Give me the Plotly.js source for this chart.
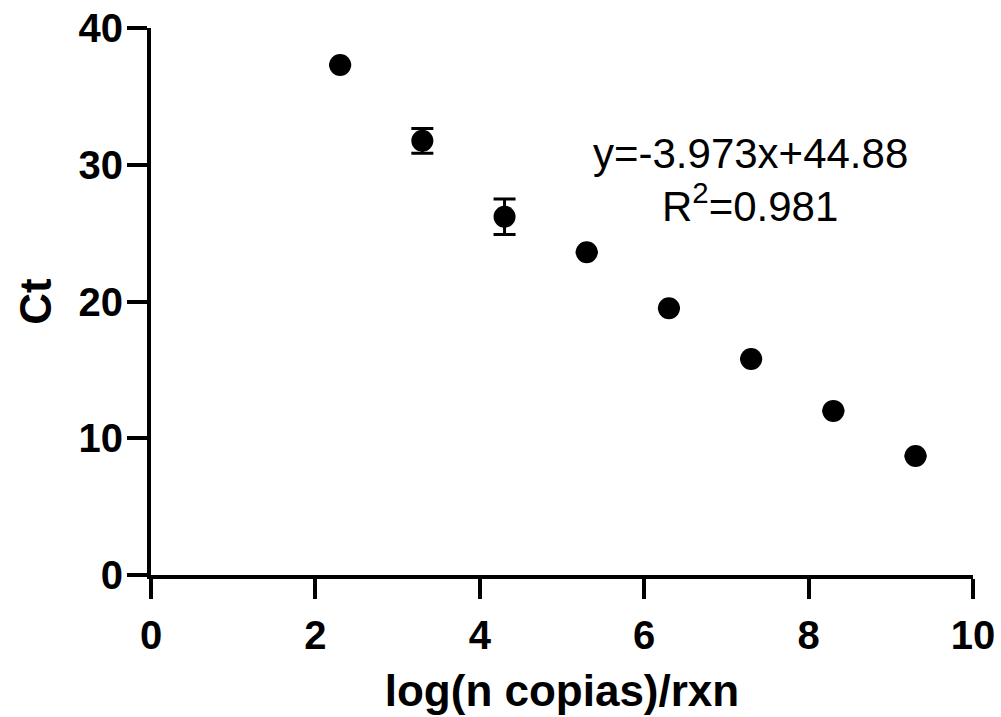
<!DOCTYPE html>
<html>
<head>
<meta charset="utf-8">
<script src="https://cdn.plot.ly/plotly-3.0.1.min.js"></script>
<style>html,body{margin:0;padding:0;background:#fff;}#chart{width:1001px;height:717px;}</style>
</head>
<body>
<div id="chart"></div>
<script>
const logCopies = [2.301, 3.301, 4.301, 5.301, 6.301, 7.301, 8.301, 9.301];
const ctMean = [37.3, 31.75, 26.2, 23.6, 19.5, 15.8, 12.0, 8.7];
const ctSD = [0, 0.9, 1.3, 0, 0, 0, 0, 0];
const xTicks = [0, 2, 4, 6, 8, 10];
const yTicks = [0, 10, 20, 30, 40];
const equationLine = 'y=-3.973x+44.88';
const r2Line = 'R<sup>2</sup>=0.981';

const trace = {
  x: logCopies, y: ctMean, type: 'scatter', mode: 'markers',
  marker: {color: '#000', size: 22},
  error_y: {type: 'data', array: ctSD, visible: true, color: '#000', thickness: 3, width: 11},
  showlegend: false, cliponaxis: false
};
const fontFam = 'Liberation Sans, Arial, sans-serif';
const layout = {
  width: 1001, height: 717,
  margin: {l: 151, r: 28, t: 28, b: 142},
  paper_bgcolor: '#fff', plot_bgcolor: '#fff',
  font: {family: fontFam, color: '#000'},
  xaxis: {
    range: [0, 10], tickvals: xTicks, ticktext: xTicks.map(String),
    showgrid: false, zeroline: false, showline: true, linecolor: '#000', linewidth: 4,
    ticks: 'outside', ticklen: 20, tickwidth: 4, tickcolor: '#000',
    tickfont: {family: fontFam, size: 40, weight: 'bold', color: '#000'},
    ticklabelstandoff: 2,
    title: {text: '<b>log(n copias)/rxn</b>', font: {family: fontFam, size: 44, color: '#000'}, standoff: 20}
  },
  yaxis: {
    range: [0, 40], tickvals: yTicks, ticktext: yTicks.map(String),
    showgrid: false, zeroline: false, showline: true, linecolor: '#000', linewidth: 4,
    ticks: 'outside', ticklen: 20, tickwidth: 4, tickcolor: '#000',
    tickfont: {family: fontFam, size: 40, weight: 'bold', color: '#000'},
    ticklabelstandoff: -4,
    title: {text: '<b>Ct</b>', font: {family: fontFam, size: 44, color: '#000'}, standoff: 14}
  },
  annotations: [
    {x: 7.29, y: 30.8, xref: 'x', yref: 'y', text: equationLine, showarrow: false,
     xanchor: 'center', yanchor: 'middle', font: {family: fontFam, size: 42, color: '#000'}},
    {x: 7.29, y: 27.2, xref: 'x', yref: 'y', text: r2Line, showarrow: false,
     xanchor: 'center', yanchor: 'middle', font: {family: fontFam, size: 42, color: '#000'}}
  ]
};
Plotly.newPlot('chart', [trace], layout, {displayModeBar: false, staticPlot: true});
</script>
</body>
</html>
